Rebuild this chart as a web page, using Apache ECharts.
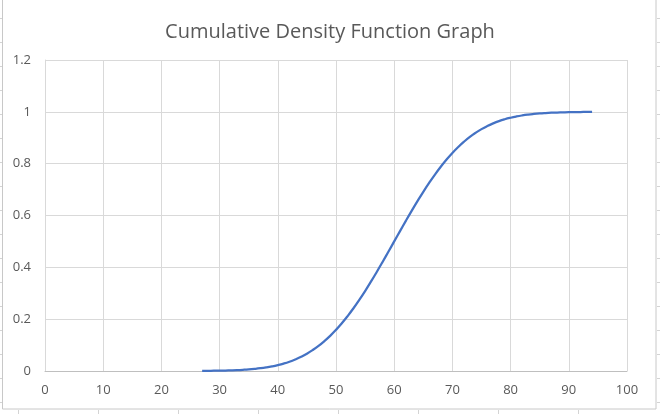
<!DOCTYPE html>
<html>
<head>
<meta charset="utf-8">
<script src="https://cdn.jsdelivr.net/npm/echarts@6/dist/echarts.min.js"></script>
<style>
html,body{margin:0;padding:0;background:#fff;}
#chart{width:660px;height:414px;}
</style>
</head>
<body>
<div id="chart"></div>
<script>
var titleText = "Cumulative Density Function Graph";
var xValues = [27,28,29,30,31,32,33,34,35,36,37,38,39,40,41,42,43,44,45,46,47,48,49,50,51,52,53,54,55,56,57,58,59,60,61,62,63,64,65,66,67,68,69,70,71,72,73,74,75,76,77,78,79,80,81,82,83,84,85,86,87,88,89,90,91,92,93,94];
var cdfValues = [0.0005,0.0007,0.001,0.0013,0.0019,0.0026,0.0035,0.0047,0.0062,0.0082,0.0107,0.0139,0.0179,0.0228,0.0287,0.0359,0.0446,0.0548,0.0668,0.0808,0.0968,0.1151,0.1357,0.1587,0.1841,0.2119,0.242,0.2743,0.3085,0.3446,0.3821,0.4207,0.4602,0.5,0.5398,0.5793,0.6179,0.6554,0.6915,0.7257,0.758,0.7881,0.8159,0.8413,0.8643,0.8849,0.9032,0.9192,0.9332,0.9452,0.9554,0.9641,0.9713,0.9772,0.9821,0.9861,0.9893,0.9918,0.9938,0.9953,0.9965,0.9974,0.9981,0.9987,0.999,0.9993,0.9995,0.9997];
var yTickLabels = {"0":"0","0.2":"0.2","0.4":"0.4","0.6":"0.6","0.8":"0.8","1":"1","1.2":"1.2"};

var seriesData = xValues.map(function(x, i){ return [x, cdfValues[i]]; });

var chart = echarts.init(document.getElementById('chart'), null, {renderer:'canvas'});

// Excel sheet cell lines around the chart object
var cellLines = [];
[18,98,178,258,338,418,498,578].forEach(function(x){
  cellLines.push({type:'line', shape:{x1:x+0.5,y1:410,x2:x+0.5,y2:414}, style:{stroke:'#d4d4d4',lineWidth:1}, silent:true});
});
[18,42,66,90,114,138,162,186,210,234,258,282,306,330,354,378,402].forEach(function(y){
  cellLines.push({type:'line', shape:{x1:0,y1:y+0.5,x2:2,y2:y+0.5}, style:{stroke:'#d4d4d4',lineWidth:1}, silent:true});
  cellLines.push({type:'line', shape:{x1:657,y1:y+0.5,x2:660,y2:y+0.5}, style:{stroke:'#d4d4d4',lineWidth:1}, silent:true});
});
cellLines.push({type:'rect', shape:{x:2.5,y:-5,width:653.5,height:414}, style:{fill:'none',stroke:'#c8c8c8',lineWidth:1}, silent:true});

chart.setOption({
  backgroundColor:'#ffffff',
  animation:false,
  title:{
    text:titleText,
    left:'center',
    top:17,
    textStyle:{fontFamily:'Open Sans',fontSize:20,fontWeight:'normal',color:'#595959'}
  },
  grid:{left:45,right:33,top:60,bottom:43,containLabel:false},
  xAxis:{
    type:'value',
    min:0,max:100,interval:10,
    axisLine:{show:true,lineStyle:{color:'#bfbfbf',width:1}},
    axisTick:{show:false},
    axisLabel:{color:'#595959',fontFamily:'Open Sans',fontSize:13,margin:13},
    splitLine:{show:true,lineStyle:{color:'#d9d9d9',width:1}}
  },
  yAxis:{
    type:'value',
    min:0,max:1.2,interval:0.2,
    axisLine:{show:true,lineStyle:{color:'#d9d9d9',width:1}},
    axisTick:{show:false},
    axisLabel:{color:'#595959',fontFamily:'Open Sans',fontSize:13,margin:14,
      formatter:function(v){ var k=String(Math.round(v*10)/10); return yTickLabels[k]!==undefined?yTickLabels[k]:k; }},
    splitLine:{show:true,lineStyle:{color:'#d9d9d9',width:1}}
  },
  series:[{
    type:'line',
    data:seriesData,
    smooth:true,
    showSymbol:false,
    lineStyle:{color:'#4472C4',width:2.25},
    itemStyle:{color:'#4472C4'}
  }],
  graphic:cellLines
});
</script>
</body>
</html>
